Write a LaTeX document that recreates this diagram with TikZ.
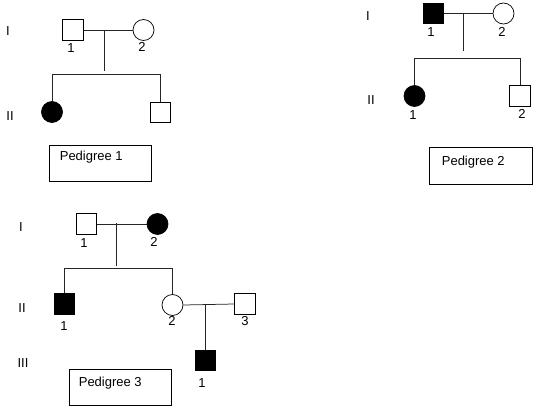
\documentclass[tikz,border=0pt]{standalone}
\usepackage{fontspec}
\setmainfont{Liberation Sans}
\begin{document}
\begin{tikzpicture}[x=1pt,y=-1pt,
  male/.style={draw, rectangle, minimum size=20.5pt, inner sep=0pt, line width=0.7pt},
  female/.style={draw, circle, minimum size=21pt, inner sep=0pt, line width=0.7pt},
  aff/.style={fill=black},
  unaff/.style={fill=white},
  lbl/.style={font=\fontsize{13}{15}\selectfont, inner sep=0pt},
  link/.style={line width=0.75pt, draw=black!85},
  capbox/.style={draw, rectangle, line width=0.7pt, minimum width=102pt, minimum height=36.5pt, inner sep=0pt}]
\useasboundingbox (0,0) rectangle (541,415);

% ---------------- Pedigree 1 ----------------
\node[lbl] (p1g1) at (8,31) {I};
\node[lbl] (p1g2) at (10,116) {II};
\node[male, unaff] (p1a) at (73,30) {};
\node[female, unaff] (p1b) at (143.5,30) {};
\node[lbl] (p1al) at (71,48) {1};
\node[lbl] (p1bl) at (142,47) {2};
\node[female, aff] (p1c) at (52,112) {};
\node[male, unaff] (p1d) at (160.5,112.5) {};
\coordinate (p1m) at (104,30);
\coordinate (p1e) at (104,71);
\coordinate (p1s) at (104,74);
\draw[link] (p1a.east) -- (p1b.west);
\draw[link] (p1m) -- (p1e);
\draw[link] (p1c.north) -- (p1c.north |- p1s) -- (p1d.north |- p1s) -- (p1d.north);
\node[capbox] (p1box) at (100,163.5) {};
\node[lbl, anchor=west] (p1txt) at ([xshift=11pt,yshift=6.5pt]p1box.west) {Pedigree 1};

% ---------------- Pedigree 2 ----------------
\node[lbl] (p2g1) at (368,16) {I};
\node[lbl] (p2g2) at (371,100) {II};
\node[male, aff] (p2a) at (433.5,13.5) {};
\node[female, unaff] (p2b) at (503.5,13.5) {};
\node[lbl] (p2al) at (431,32) {1};
\node[lbl] (p2bl) at (502,32) {2};
\node[female, aff] (p2c) at (414.5,96) {};
\node[male, unaff] (p2d) at (520,96) {};
\node[lbl] (p2cl) at (413,115) {1};
\node[lbl] (p2dl) at (522,114) {2};
\coordinate (p2m) at (463,13.5);
\coordinate (p2e) at (463,51);
\coordinate (p2s) at (463,58);
\draw[link] (p2a.east) -- (p2b.west);
\draw[link] (p2m) -- (p2e);
\draw[link] (p2c.north) -- (p2c.north |- p2s) -- (p2d.north |- p2s) -- (p2d.north);
\node[capbox, minimum width=103pt] (p2box) at (480.5,166) {};
\node[lbl, anchor=west] (p2txt) at ([xshift=13pt,yshift=4pt]p2box.west) {Pedigree 2};

% ---------------- Pedigree 3 ----------------
\node[lbl] (p3g1) at (21,227) {I};
\node[lbl] (p3g2) at (22,308) {II};
\node[lbl] (p3g3) at (23,363) {III};
\node[male, unaff] (p3a) at (86.5,224) {};
\node[female, aff] (p3b) at (157.5,224) {};
\node[lbl] (p3al) at (84,243) {1};
\node[lbl] (p3bl) at (154,242) {2};
\node[male, aff] (p3c) at (64.5,304) {};
\node[female, unaff] (p3d) at (172.5,305) {};
\node[male, unaff] (p3e) at (245,304) {};
\node[lbl] (p3cl) at (64,326) {1};
\node[lbl] (p3dl) at (172,321) {2};
\node[lbl] (p3el) at (245,321) {3};
\node[male, aff] (p3f) at (205.5,360.5) {};
\node[lbl] (p3fl) at (202,383) {1};
\coordinate (p3m) at (116,223);
\coordinate (p3e1) at (116,266);
\coordinate (p3s) at (116,268);
\draw[link] (p3a.east) -- (p3b.west);
\draw[link] (p3m) -- (p3e1);
\draw[link] (p3c.north) -- (p3c.north |- p3s) -- (p3d.north |- p3s) -- (p3d.north);
\coordinate (p3m2) at (205.5,305);
\draw[link] (p3d.east) -- (p3e.west);
\draw[link] (p3m2) -- (p3f.north);
\node[capbox] (p3box) at (120,387.5) {};
\node[lbl, anchor=west] (p3txt) at ([xshift=10pt,yshift=4.5pt]p3box.west) {Pedigree 3};
\end{tikzpicture}
\end{document}
